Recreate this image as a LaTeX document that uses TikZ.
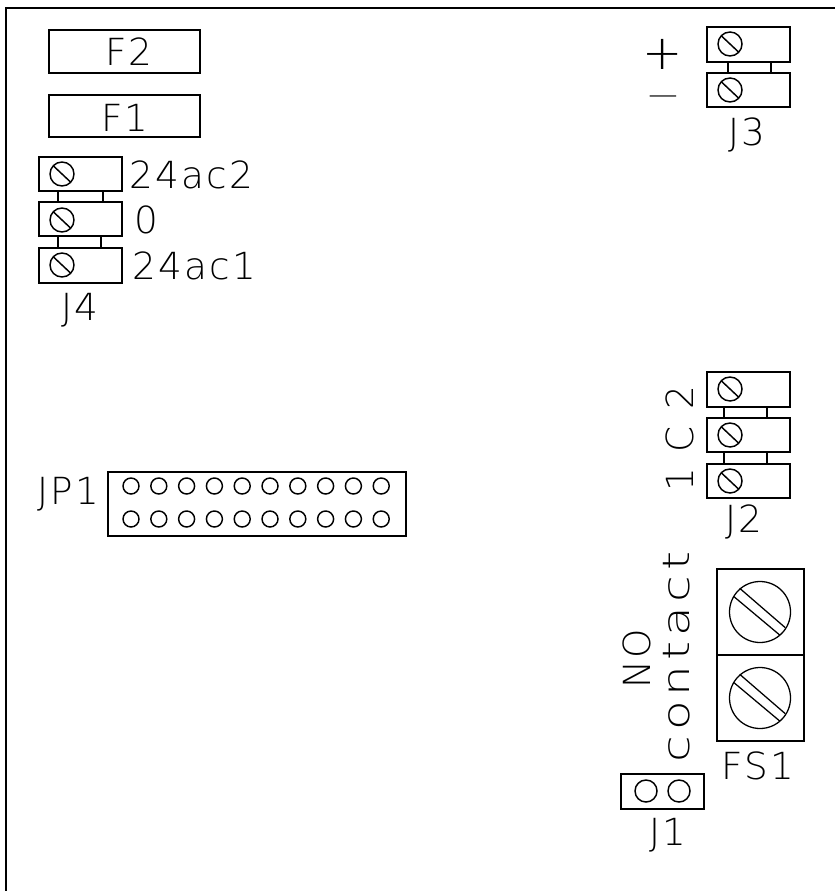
\documentclass[tikz,border=0pt]{standalone}
\usepackage{fontspec}
\newfontfamily\cadfont{DejaVu Sans ExtraLight}[LetterSpace=6]
\newfontfamily\cadwide{DejaVu Sans ExtraLight}[LetterSpace=10]
\newcommand{\screwat}[2]{%
  \draw[screw] (#1,#2) circle (12);
  \draw[screw] (#1-8.5,#2-8) -- (#1+8.5,#2+8);}
\newcommand{\bigscrewat}[2]{%
  \draw[thinline] (#1,#2) circle (30.5);
  \draw[thinline] (#1-20.3,#2-23.7) -- (#1+25.3,#2+15.7);
  \draw[thinline] (#1-26,#2-15.3) -- (#1+19.7,#2+23);}
\tikzset{
  x=0.75pt,y=-0.75pt,
  part/.style={draw=black,line width=1.5pt},
  screw/.style={draw=black,line width=1.1pt},
  thinline/.style={draw=black,line width=0.95pt},
  lbl/.style={inner sep=0pt,font=\cadfont\fontsize{28}{30}\selectfont},
  widelbl/.style={inner sep=0pt,font=\cadwide\fontsize{28}{30}\selectfont},
  signlbl/.style={inner sep=0pt,font=\cadfont\fontsize{#1}{#1}\selectfont},
}
\begin{document}
\begin{tikzpicture}
\useasboundingbox (0,0) rectangle (835,891);
% outer board edge
\draw[part] (6,891) -- (6,8) -- (835,8);
% fuses
\draw[part] (49,30) rectangle (200,73);
\draw[part] (49,95) rectangle (200,137);
\node[lbl] (f2) at (129,52) {F2};
\node[lbl] (f1) at (125,118) {F1};
% J4
\draw[part] (38.7,157) rectangle (121.7,191);
\draw[part] (38.7,202) rectangle (121.7,236);
\draw[part] (38.7,248) rectangle (121.7,283);
\draw[part] (58,191) -- (58,202);
\draw[part] (103,191) -- (103,202);
\draw[part] (58,236) -- (58,248);
\draw[part] (100.7,236) -- (100.7,248);
\screwat{62}{174}\screwat{62}{220}\screwat{62}{265}
\node[lbl] (ac2) at (191,175) {24ac2};
\node[lbl] (zero) at (146,220) {0};
\node[lbl] (ac1) at (194,266) {24ac1};
\node[lbl] (j4) at (80,310) {J4};
% J3
\draw[part] (707,27) rectangle (790,62);
\draw[part] (707,73) rectangle (790,107);
\draw[part] (728,62) -- (728,73);
\draw[part] (771,62) -- (771,73);
\screwat{730}{44}\screwat{730}{90}
\node[signlbl=36] (plus) at (663,54) {+};
\node[signlbl=22] (minus) at (663,100) {—};
\node[lbl] (j3) at (747,135) {J3};
% J2
\draw[part] (707,372) rectangle (790,407);
\draw[part] (707,418) rectangle (790,452);
\draw[part] (707,464) rectangle (790,498);
\draw[part] (724,407) -- (724,418);
\draw[part] (767,407) -- (767,418);
\draw[part] (724,452) -- (724,464);
\draw[part] (767,452) -- (767,464);
\screwat{730}{389}\screwat{730}{435}\screwat{730}{481}
\node[lbl,rotate=90] (j2lab) at (680,439) {1\hspace{12pt}C\hspace{12pt}2};
\node[lbl] (j2) at (744,522) {J2};
% FS1
\draw[part] (717,569) rectangle (804,741);
\draw[part] (717,655) -- (804,655);
\bigscrewat{760}{612}\bigscrewat{760}{698}
\node[lbl] (fs1) at (758,766) {FS1};
\node[lbl,rotate=90] (no) at (637,659) {NO};
\node[widelbl,rotate=90] (contact) at (677,657) {\scalebox{1.3}[1]{contact}};
% J1
\draw[part] (621,774) rectangle (704,809);
\draw[screw] (646,791) circle (11);
\draw[screw] (679,791) circle (11);
\node[lbl] (j1) at (668,835) {J1};
% JP1
\draw[part] (108,472) rectangle (406,536);
\foreach \i in {0,...,9}{
  \draw[screw] (131+27.8*\i,486) circle (8);
  \draw[screw] (131+27.8*\i,519) circle (8);
}
\node[lbl] (jp1) at (68,494) {JP1};
\end{tikzpicture}
\end{document}
